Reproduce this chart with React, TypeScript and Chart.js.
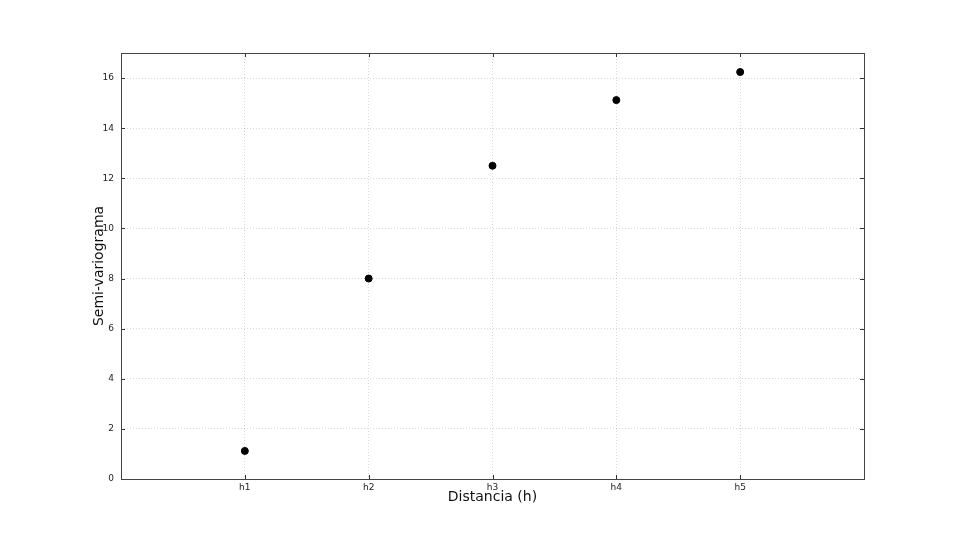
import React, { useEffect, useRef } from "react";
import { Chart, registerables } from "chart.js";

Chart.register(...registerables);

const categories = ["h1", "h2", "h3", "h4", "h5"];
const semivariance = [1.12, 8.0, 12.5, 15.12, 16.24];
const yTicks = [0, 2, 4, 6, 8, 10, 12, 14, 16];
const xRange = [0, 6];
const yRange = [0, 17];

const frame = {
  id: "frame",
  afterDraw(chart: any) {
    const { ctx, chartArea: a, scales } = chart;
    ctx.save();
    ctx.strokeStyle = "#333";
    ctx.lineWidth = 1;
    const L = 4;
    ctx.beginPath();
    scales.y.ticks.forEach((t: any) => {
      const py = Math.round(scales.y.getPixelForValue(t.value)) + 0.5;
      ctx.moveTo(a.left, py);
      ctx.lineTo(a.left + L, py);
      ctx.moveTo(a.right, py);
      ctx.lineTo(a.right - L, py);
    });
    scales.x.ticks.forEach((t: any) => {
      const px = Math.round(scales.x.getPixelForValue(t.value)) + 0.5;
      ctx.moveTo(px, a.bottom);
      ctx.lineTo(px, a.bottom - L);
      ctx.moveTo(px, a.top);
      ctx.lineTo(px, a.top + L);
    });
    ctx.stroke();
    ctx.strokeStyle = "#444";
    ctx.strokeRect(
      Math.round(a.left) + 0.5,
      Math.round(a.top) + 0.5,
      Math.round(a.right - a.left),
      Math.round(a.bottom - a.top)
    );
    ctx.restore();
  },
};

export default function App() {
  const ref = useRef<HTMLCanvasElement>(null);
  useEffect(() => {
    if (!ref.current) return;
    const chart = new Chart(ref.current, {
      type: "scatter",
      data: {
        datasets: [
          {
            data: semivariance.map((v, i) => ({ x: i + 1, y: v })),
            backgroundColor: "#000",
            borderColor: "#000",
            pointRadius: 3.5,
            pointHoverRadius: 3.5,
          },
        ],
      },
      options: {
        animation: false,
        responsive: false,
        maintainAspectRatio: false,
        layout: { padding: { left: 84, right: 96, top: 53, bottom: 27 } },
        plugins: { legend: { display: false }, tooltip: { enabled: false } },
        scales: {
          x: {
            type: "linear",
            min: xRange[0],
            max: xRange[1],
            afterBuildTicks: (s: any) => {
              s.ticks = categories.map((_, i) => ({ value: i + 1 }));
            },
            afterFit: (s: any) => {
              s.height = 27;
            },
            ticks: {
              callback: (v: any) => categories[Number(v) - 1] ?? "",
              font: { family: "DejaVu Sans", size: 9 },
              color: "#222",
              padding: 3,
              maxRotation: 0,
            },
            grid: {
              color: "rgba(0,0,0,0.15)",
              drawTicks: false,
              tickLength: 0,
            },
            border: { display: false, dash: [1, 2] },
            title: {
              display: true,
              text: "Distancia (h)",
              font: { family: "DejaVu Sans", size: 14 },
              color: "#111",
              padding: { top: 0, bottom: 0 },
            },
          },
          y: {
            type: "linear",
            min: yRange[0],
            max: yRange[1],
            afterBuildTicks: (s: any) => {
              s.ticks = yTicks.map((v) => ({ value: v }));
            },
            afterFit: (s: any) => {
              s.width = 37;
            },
            ticks: {
              font: { family: "DejaVu Sans", size: 9 },
              color: "#222",
              padding: 7,
            },
            grid: {
              color: "rgba(0,0,0,0.15)",
              drawTicks: false,
              tickLength: 0,
            },
            border: { display: false, dash: [1, 2] },
            title: {
              display: true,
              text: "Semi-variograma",
              font: { family: "DejaVu Sans", size: 14 },
              color: "#111",
              padding: { top: 7, bottom: 0 },
            },
          },
        },
      },
      plugins: [frame],
    });
    return () => chart.destroy();
  }, []);
  return (
    <div style={{ position: "absolute", left: 0, top: 0, width: 960, height: 533, background: "#fff" }}>
      <canvas ref={ref} width={960} height={533} />
    </div>
  );
}
